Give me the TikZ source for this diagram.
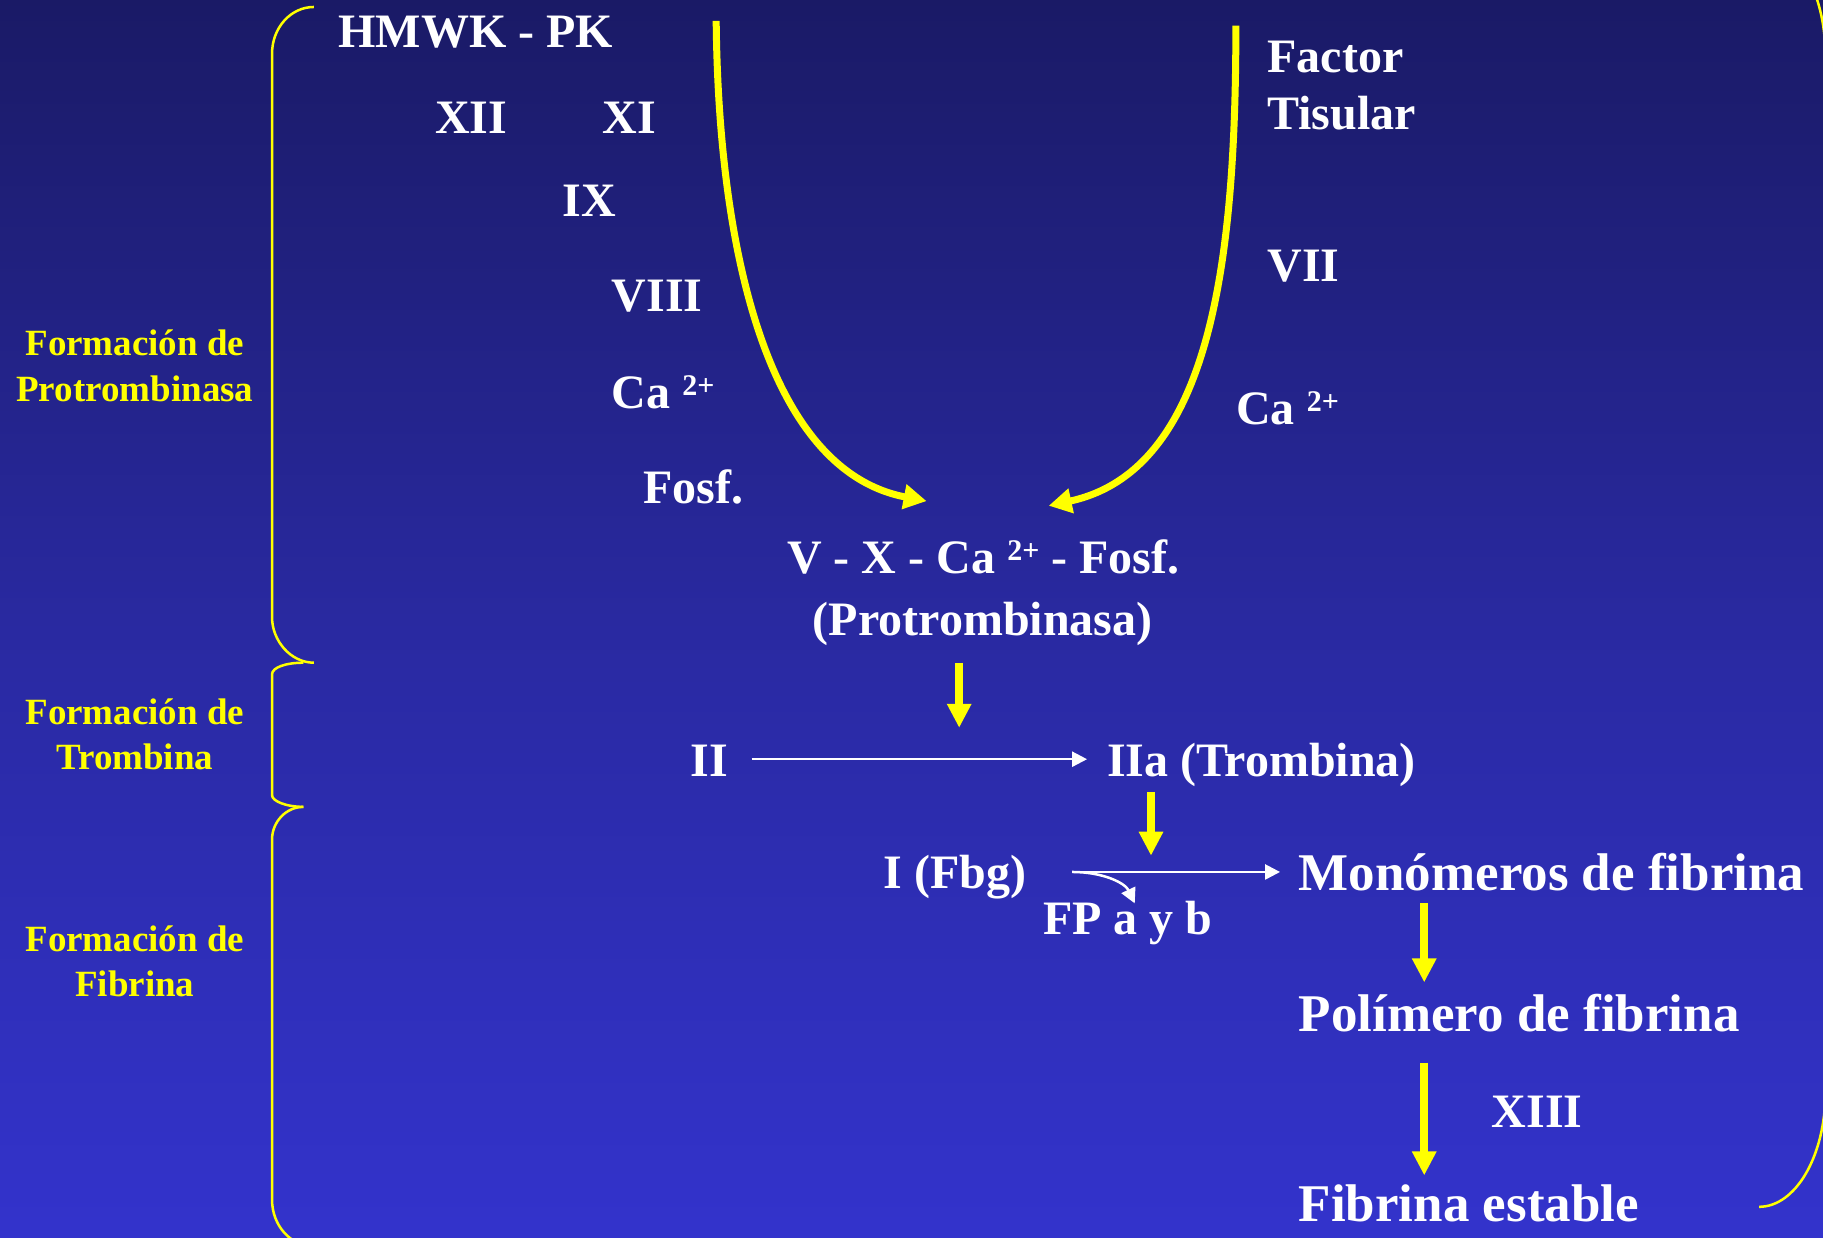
\documentclass[tikz,border=0pt]{standalone}
\usepackage{fontspec}
\setmainfont{Liberation Serif}
\usetikzlibrary{arrows.meta,calc}
\definecolor{bgtop}{RGB}{26,26,102}
\definecolor{bgmid}{RGB}{41,41,160}
\definecolor{bgbot}{RGB}{51,51,204}
\definecolor{ylw}{RGB}{255,255,0}
\newcommand{\supx}[1]{\raisebox{13pt}{\fontsize{30}{30}\selectfont #1}}
\begin{document}
\begin{tikzpicture}[x=1.1626pt,y=-1.1626pt,
 wt/.style={text=white,font=\fontsize{48}{56}\selectfont\bfseries,inner sep=0pt,anchor=base west},
 wtl/.style={text=white,font=\fontsize{53}{62}\selectfont\bfseries,inner sep=0pt,anchor=base west},
 yl/.style={text=ylw,font=\fontsize{37}{44}\selectfont\bfseries,inner sep=0pt,anchor=base},
 brace/.style={draw=ylw,line width=2.5pt},
 yarrow/.style={draw=ylw,line width=8pt,-{Triangle[length=24pt,width=23pt]}},
 ycurve/.style={draw=ylw,line width=7pt,-{Triangle[length=23pt,width=24pt]}},
 warrow/.style={draw=white,line width=2.5pt,-{Triangle[length=15pt,width=15pt]}}
]
\useasboundingbox (0,0) rectangle (1568,1064);
\clip (0,0) rectangle (1568,1064);
\shade[top color=bgtop, bottom color=bgbot, middle color=bgmid] (0,0) rectangle (1568,1064);

% braces
\draw[brace] (270,6) .. controls (250,6) and (234,24) .. (234,46) -- (234,531) .. controls (234,551) and (250,570) .. (270,570);
\draw[brace] (261,570) .. controls (246,570) and (234,574) .. (234,580) -- (234,684) .. controls (234,689) and (246,694) .. (261,694);
\draw[brace] (261,694) .. controls (246,694) and (234,707) .. (234,722) -- (234,1032) .. controls (234,1054) and (250,1072) .. (270,1072);
\draw[brace] (1513,1038) .. controls (1544.5,1038) and (1570,994) .. (1570,940) -- (1570,47) .. controls (1570,-7) and (1544.5,-51) .. (1513,-51);

% labels
\node[yl] (l1a) at (116,306) {Formación de};
\node[yl] (l1b) at (116,345) {Protrombinasa};
\node[yl] (l2a) at (116,623) {Formación de};
\node[yl] (l2b) at (116,662) {Trombina};
\node[yl] (l3a) at (116,818) {Formación de};
\node[yl] (l3b) at (116,857) {Fibrina};

% texts
\node[wt] (hmwk) at (291,41) {HMWK - PK};
\node[wt] (xii) at (374,115) {XII};
\node[wt] (xi) at (518,115) {XI};
\node[wt] (ix) at (484,186) {IX};
\node[wt] (viii) at (526,268) {VIII};
\node[wt] (caL) at (526,351) {Ca \supx{2+}};
\node[wt] (fosf) at (553,433) {Fosf.};
\node[wt] (vx) at (677,493) {V - X - Ca \supx{2+} - Fosf.};
\node[wt] (prot) at (699,547) {(Protrombinasa)};
\node[wt] (factor) at (1090,62) {Factor};
\node[wt] (tis) at (1090,111) {Tisular};
\node[wt] (vii) at (1090,242) {VII};
\node[wt] (caR) at (1063,365) {Ca \supx{2+}};
\node[wt] (ii) at (594,668) {II};
\node[wt] (iia) at (952,668) {IIa (Trombina)};
\node[wt] (fbg) at (760,764) {I (Fbg)};
\node[wt] (fp) at (897,804) {FP a y b};
\node[wtl] (mono) at (1117,766) {Monómeros de fibrina};
\node[wtl] (poli) at (1117,887) {Polímero de fibrina};
\node[wt] (xiii) at (1283,970) {XIII};
\node[wtl] (fib) at (1117,1051) {Fibrina estable};

% yellow curved arrows
\coordinate (c1s) at (616,18);
\coordinate (c1e) at (797,431);
\draw[ycurve] (c1s) .. controls (618,220) and (662,405) .. (c1e);
\coordinate (c2s) at (1063,22);
\coordinate (c2e) at (902,435);
\draw[ycurve] (c2s) .. controls (1063,230) and (1040,405) .. (c2e);

% yellow straight arrows
\coordinate (a1s) at (825,570);
\coordinate (a1e) at (825,626);
\coordinate (a2s) at (990,681);
\coordinate (a2e) at (990,736);
\coordinate (a3s) at (1225,777);
\coordinate (a3e) at (1225,845);
\coordinate (a4s) at (1225,914);
\coordinate (a4e) at (1225,1011);
\draw[yarrow] (a1s) -- (a1e);
\draw[yarrow] (a2s) -- (a2e);
\draw[yarrow] (a3s) -- (a3e);
\draw[yarrow] (a4s) -- (a4e);

% white arrows
\draw[warrow] ($(ii.base east)+(20,-15)$) -- ($(iia.base west)+(-17,-15)$);
\coordinate (w2s) at ($(fbg.base east)+(39,-14)$);
\coordinate (w2e) at ($(mono.base west)+(-16,-16)$);
\draw[warrow] (w2s) -- (w2s -| w2e);
\draw[warrow] (w2s) .. controls +(28,0) and +(-8,-17) .. ($(fp.base west)+(79,-27)$);
\end{tikzpicture}
\end{document}
